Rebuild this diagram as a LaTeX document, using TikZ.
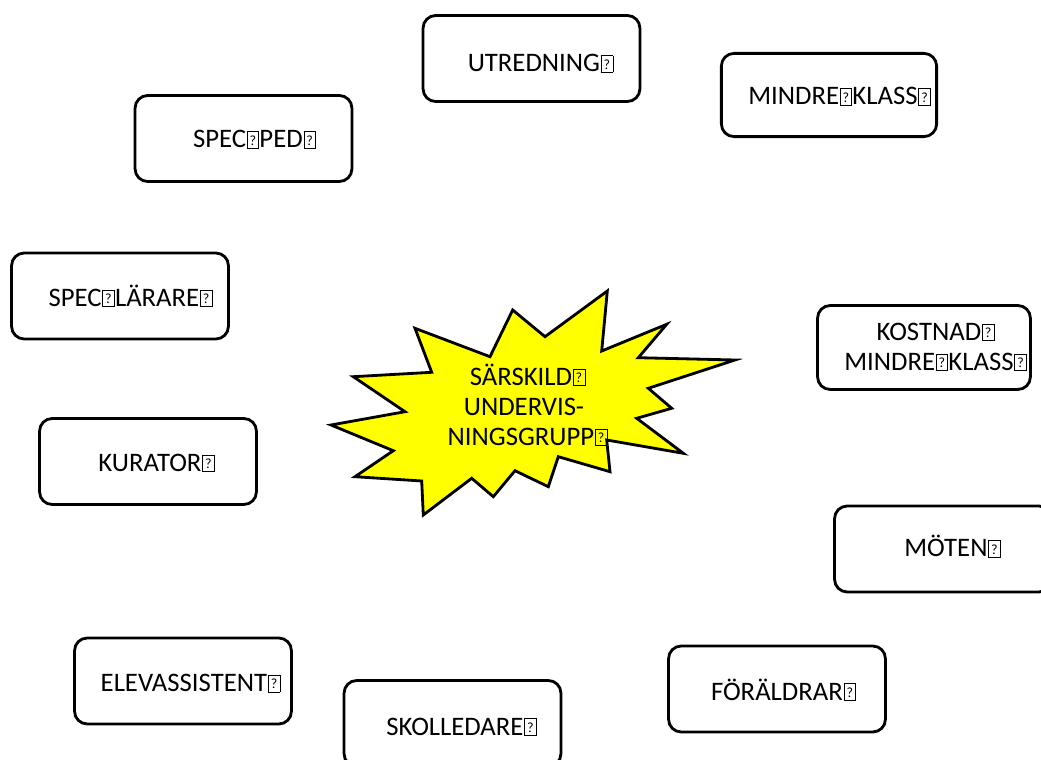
\documentclass[tikz,border=0pt]{standalone}
\usepackage{fontspec}
\setmainfont{Carlito}
\usepackage{tikz}
\usetikzlibrary{positioning}
\definecolor{burstYellow}{RGB}{255, 255, 0}
\newcommand\qbox{\setlength{\fboxsep}{0pt}\setlength{\fboxrule}{0.45pt}\framebox[0.46em][c]{\rule{0pt}{0.6em}\raisebox{0.1em}{\fontsize{10}{10}\selectfont ?}}}
\newcommand\qb{\makebox[0.23em][l]{\kern0.03em\qbox}}
\newcommand\qs{\makebox[0.5em][l]{\kern0.02em\qbox}}

\begin{document}
\begin{tikzpicture}[x=0.025cm,y=-0.025cm,
                card/.style={draw,line width=2pt,rounded corners=9pt,minimum width=5.42cm,
                             minimum height=2.15cm,inner sep=0pt},
                cardtext/.style={font=\fontsize{19}{21.3}\selectfont,align=center,inner sep=0pt},
                burst/.style={draw,line width=2pt,fill=burstYellow,line join=miter}
            ]
                \useasboundingbox (0,0) rectangle (1041,760);
                \draw[burst] (512.7,310) -- (490,356.7) -- (415,328.3) -- (431.7,372.3) -- (353.3,376.7)
                    -- (405,411.7) -- (331,425) -- (393.3,450.7) -- (355,476.7) -- (421.7,481)
                    -- (423.3,515) -- (471.7,478.3) -- (493.3,496.7) -- (515,470.7) -- (548.3,486.7)
                    -- (558.3,456.7) -- (610,471.7) -- (606.7,440) -- (683.3,453.3) -- (636.7,418.3)
                    -- (671.7,408.3) -- (648.3,388.3) -- (735,360) -- (638.3,357.7) -- (666.7,324.3)
                    -- (601.7,351) -- (607.3,291) -- (545,336.7) -- cycle;
                \node[cardtext] (gruppT) at (524,405) {SÄRSKILD\qb\\UNDERVIS-\\NINGSGRUPP\qb};

                \node[card] (utredning) at (531.5,58.5) {};
                \node[cardtext,anchor=base] (utredningT) at (537,72) {UTREDNING\qb};
                \node[card] (specped) at (243.5,138.5) {};
                \node[cardtext,anchor=base] (specpedT) at (251,148) {SPEC\qs PED\qb};
                \node[card,minimum width=5.38cm,minimum height=2.08cm] (mindre) at (829,95) {};
                \node[cardtext,anchor=base] (mindreT) at (836,105) {MINDRE\qs KLASS\qb};
                \node[card] (speclarare) at (120,296) {};
                \node[cardtext,anchor=base] (speclarareT) at (127,306.5) {SPEC\qs LÄRARE\qb};
                \node[card,minimum width=5.32cm,minimum height=2.1cm] (kostnad) at (924,347.5) {};
                \node[cardtext] (kostnadT) at (932,347) {KOSTNAD\qb\\MINDRE\qs KLASS\qb};
                \node[card] (kurator) at (148,461.5) {};
                \node[cardtext,anchor=base] (kuratorT) at (153,471.5) {KURATOR\qb};
                \node[card] (moten) at (943,549) {};
                \node[cardtext,anchor=base] (motenT) at (949,557) {MÖTEN\qb};
                \node[card] (elev) at (183,681) {};
                \node[cardtext,anchor=base] (elevT) at (187,691.5) {ELEVASSISTENT\qb};
                \node[card] (foraldrar) at (777,689) {};
                \node[cardtext,anchor=base] (foraldrarT) at (780,700) {FÖRÄLDRAR\qb};
                \node[card] (skolledare) at (452.5,723.5) {};
                \node[cardtext,anchor=base] (skolledareT) at (458,735) {SKOLLEDARE\qb};
            \end{tikzpicture}
\end{document}
